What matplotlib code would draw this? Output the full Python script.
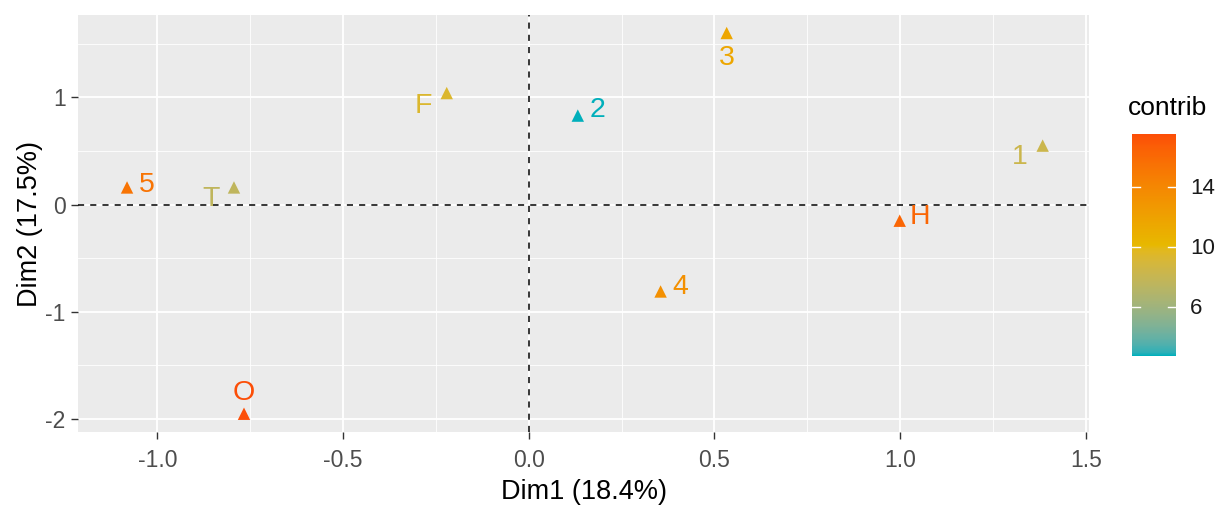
import numpy as np
import matplotlib
matplotlib.use("Agg")
import matplotlib.pyplot as plt
from matplotlib.colors import ListedColormap, Normalize, to_rgb
from matplotlib.ticker import MultipleLocator

plt.rcParams["font.family"] = ["Liberation Sans", "DejaVu Sans"]

# PCA individuals (Dim1, Dim2) and their contributions
labels = ["1", "2", "3", "4", "5", "F", "H", "O", "T"]
dim1 = [1.384, 0.132, 0.533, 0.355, -1.082, -0.221, 0.999, -0.767, -0.794]
dim2 = [0.55, 0.83, 1.60, -0.81, 0.16, 1.04, -0.15, -1.95, 0.16]
contrib = [8.3, 2.7, 11.6, 13.3, 15.3, 9.3, 16.2, 17.5, 7.6]
grad_cols = ["#00AFBB", "#E7B800", "#FC4E07"]

# label offsets (points) mimicking repel placement
offsets = {"1": (-16.5, -8.5), "2": (14, 4), "3": (0, -18), "4": (14.5, 3),
           "5": (14, 2), "F": (-16.5, -9.5), "H": (14.5, 3), "O": (0, 15),
           "T": (-16.5, -8.5)}

M = np.array([[0.4124, 0.3576, 0.1805],
              [0.2126, 0.7152, 0.0722],
              [0.0193, 0.1192, 0.9505]])
WHITE = np.array([0.95047, 1.0, 1.08883])


def to_lab(c):
    rgb = np.array(to_rgb(c))
    lin = np.where(rgb <= 0.04045, rgb / 12.92, ((rgb + 0.055) / 1.055) ** 2.4)
    xyz = M @ lin / WHITE
    f = np.where(xyz > 0.008856, np.cbrt(xyz), 7.787 * xyz + 16 / 116)
    return np.array([116 * f[1] - 16, 500 * (f[0] - f[1]), 200 * (f[1] - f[2])])


def from_lab(lab):
    fy = (lab[0] + 16) / 116
    f = np.array([fy + lab[1] / 500, fy, fy - lab[2] / 200])
    xyz = np.where(f ** 3 > 0.008856, f ** 3, (f - 16 / 116) / 7.787) * WHITE
    lin = np.linalg.solve(M, xyz)
    lin = np.clip(lin, 0, 1)
    rgb = np.where(lin <= 0.0031308, 12.92 * lin, 1.055 * lin ** (1 / 2.4) - 0.055)
    return np.clip(rgb, 0, 1)


# ggplot-style gradient: interpolate in Lab space
labs = [to_lab(c) for c in grad_cols]
stops = np.linspace(0, 1, len(labs))
ramp = []
for t in np.linspace(0, 1, 256):
    i = min(int(t * (len(labs) - 1)), len(labs) - 2)
    w = (t - stops[i]) / (stops[i + 1] - stops[i])
    ramp.append(from_lab(labs[i] * (1 - w) + labs[i + 1] * w))
cmap = ListedColormap(ramp)
norm = Normalize(vmin=min(contrib), vmax=max(contrib))

fig = plt.figure(figsize=(12.23, 5.07), dpi=100)
ax = fig.add_axes([0.0638, 0.148, 0.827, 0.822])
ax.set_facecolor("#EBEBEB")

ax.set_xlim(-1.214, 1.51)
ax.set_ylim(-2.12, 1.766)
ax.xaxis.set_major_locator(MultipleLocator(0.5))
ax.xaxis.set_minor_locator(MultipleLocator(0.25))
ax.yaxis.set_major_locator(MultipleLocator(1))
ax.yaxis.set_minor_locator(MultipleLocator(0.5))
ax.grid(which="major", color="white", lw=1.3)
ax.grid(which="minor", color="white", lw=0.6)
ax.set_axisbelow(True)
for s in ax.spines.values():
    s.set_visible(False)
ax.tick_params(which="major", length=5, width=1, color="#333333", labelsize=16.5,
               labelcolor="#4D4D4D", pad=4)
ax.tick_params(axis="x", which="major", pad=7)
ax.tick_params(which="minor", length=0)
ax.set_xticklabels([f"{v:.1f}" for v in ax.get_xticks()])
ax.set_yticklabels([f"{v:.0f}" for v in ax.get_yticks()])

ax.axhline(0, color="black", ls=(0, (4, 4)), lw=1.1)
ax.axvline(0, color="black", ls=(0, (4, 4)), lw=1.1)

ax.scatter(dim1, dim2, c=contrib, cmap=cmap, norm=norm, marker="^", s=80,
           zorder=3, linewidths=0)
for lab, x, y, c in zip(labels, dim1, dim2, contrib):
    ax.annotate(lab, (x, y), xytext=offsets[lab], textcoords="offset points",
                ha="center", va="center", fontsize=20.5, color=cmap(norm(c)))

ax.set_xlabel("Dim1 (18.4%)", fontsize=19.5, labelpad=5)
ax.set_ylabel("Dim2 (17.5%)", fontsize=19.5, labelpad=1.5)

# colour bar
cax = fig.add_axes([1132 / 1223, 1 - 356 / 507, 44 / 1223, 222 / 507])
sm = plt.cm.ScalarMappable(norm=norm, cmap=cmap)
cb = fig.colorbar(sm, cax=cax, ticks=[6, 10, 14])
cb.outline.set_visible(False)
cb.ax.tick_params(length=0, labelsize=16, labelcolor="#1A1A1A", pad=10)
for t in [6, 10, 14]:
    cax.plot([0, 0.18], [t, t], color="white", lw=1, transform=cax.get_yaxis_transform())
    cax.plot([0.82, 1], [t, t], color="white", lw=1, transform=cax.get_yaxis_transform())
fig.text(1128 / 1223, 1 - 108 / 507, "contrib", fontsize=19, ha="left", va="center")

fig.savefig("out.png", dpi=100)
